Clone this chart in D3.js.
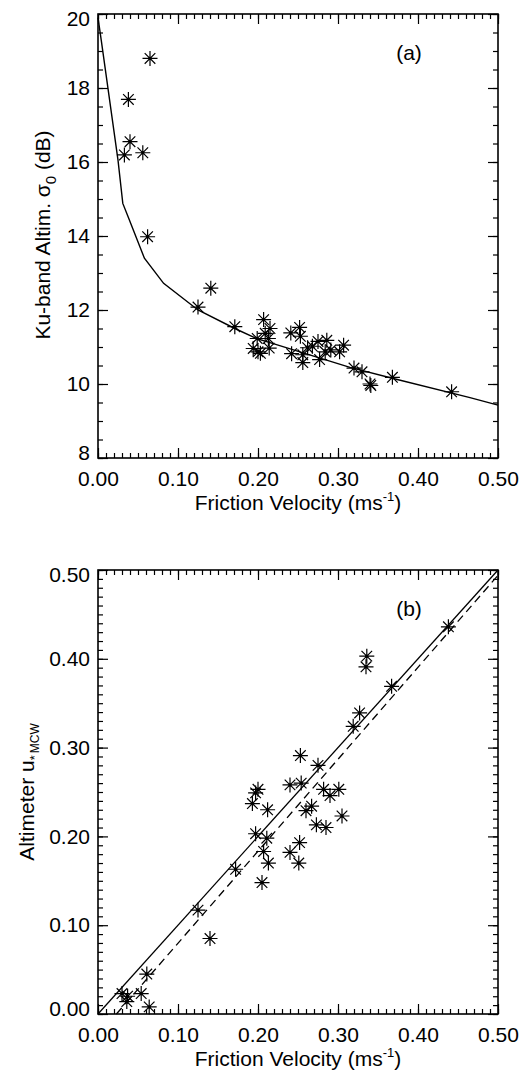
<!DOCTYPE html>
<html>
<head>
<meta charset="utf-8">
<script src="https://cdn.jsdelivr.net/npm/d3@7"></script>
<style>
  body { margin: 0; background: #fff; }
  svg { font-family: "Liberation Sans", Arial, sans-serif; }
  .axis text { font-size: 21px; fill: #000; }
  .axis line { stroke: #000; stroke-width: 1.2; }
</style>
</head>
<body>
<div id="main"></div>
<script>
// panel (a): altimeter sigma0 against friction velocity
const sigmaU = [0.033, 0.038, 0.040, 0.056, 0.062, 0.065, 0.125, 0.141, 0.171, 0.194,
  0.199, 0.200, 0.203, 0.207, 0.209, 0.213, 0.214, 0.215, 0.241, 0.242,
  0.252, 0.253, 0.256, 0.256, 0.262, 0.268, 0.275, 0.277, 0.284, 0.286,
  0.291, 0.302, 0.307, 0.320, 0.330, 0.340, 0.341, 0.368, 0.442];
const sigmaDb = [16.19, 17.69, 16.55, 16.25, 13.98, 18.80, 12.08, 12.59, 11.55, 10.96,
  11.23, 10.87, 10.83, 11.74, 11.37, 11.23, 10.97, 11.50, 11.38, 10.82,
  11.53, 11.29, 10.79, 10.58, 10.98, 11.02, 11.15, 10.66, 10.87, 11.18,
  10.92, 10.87, 11.05, 10.43, 10.33, 10.00, 9.96, 10.18, 9.79];

// model curve in panel (a)
const modelU = [0.000, 0.004, 0.025, 0.031, 0.038, 0.058, 0.082, 0.125, 0.171, 0.198, 0.215, 0.315, 0.369, 0.465, 0.500];
const modelDb = [19.90, 19.30, 16.05, 14.88, 14.50, 13.40, 12.72, 12.00, 11.50, 11.23, 11.12, 10.45, 10.15, 9.63, 9.43];

// panel (b): altimeter u* (MCW) against friction velocity
const mcwU = [0.030, 0.037, 0.036, 0.054, 0.061, 0.064, 0.125, 0.140, 0.172, 0.193,
  0.197, 0.200, 0.197, 0.205, 0.207, 0.211, 0.212, 0.213, 0.240, 0.240,
  0.251, 0.252, 0.253, 0.254, 0.260, 0.267, 0.273, 0.275, 0.282, 0.285,
  0.290, 0.301, 0.305, 0.319, 0.327, 0.335, 0.336, 0.367, 0.438];
const mcwUstar = [0.023, 0.020, 0.014, 0.023, 0.045, 0.008, 0.117, 0.085, 0.163, 0.237,
  0.249, 0.253, 0.203, 0.148, 0.183, 0.198, 0.230, 0.170, 0.258, 0.182,
  0.170, 0.193, 0.291, 0.260, 0.229, 0.234, 0.213, 0.280, 0.253, 0.210,
  0.246, 0.253, 0.223, 0.324, 0.339, 0.391, 0.403, 0.369, 0.436];

// lines in panel (b)
const oneToOneU = [0, 0.5];
const oneToOneV = [0, 0.5];
const fitU = [0.023, 0.5];
const fitV = [0, 0.494];

// ticks
const xTicks = [0, 0.1, 0.2, 0.3, 0.4, 0.5];
const xTickLabels = ['0.00', '0.10', '0.20', '0.30', '0.40', '0.50'];
const yTicksA = [8, 10, 12, 14, 16, 18, 20];
const yTickLabelsA = ['8', '10', '12', '14', '16', '18', '20'];
const yTicksB = [0, 0.1, 0.2, 0.3, 0.4, 0.5];
const yTickLabelsB = ['0.00', '0.10', '0.20', '0.30', '0.40', '0.50'];

const W = 525, H = 1072;
const left = 98, plotW = 400, plotH = 444;

const svg = d3.select('#main').append('svg')
  .attr('width', W)
  .attr('height', H);

// asterisk marker like IDL psym=2
const r = 7.5, dd = r * 0.7071;
const star = `M${-r},0H${r}M0,${-r}V${r}M${-dd},${-dd}L${dd},${dd}M${-dd},${dd}L${dd},${-dd}`;

function range(a, b, step) {
  const out = [];
  for (let v = a; v <= b + step / 2; v += step) out.push(+v.toFixed(4));
  return out;
}

function panel(top, yDomain, yTicks, yLabels, yMinor, tag) {
  const g = svg.append('g').attr('transform', `translate(${left},${top})`);
  const x = d3.scaleLinear().domain([0, 0.5]).range([0, plotW]);
  const y = d3.scaleLinear().domain(yDomain).range([plotH, 0]);
  const xMinor = range(0, 0.5, 0.01);

  // minor ticks on all four sides
  g.append('g').attr('class', 'axis').attr('transform', `translate(0,${plotH})`)
    .call(d3.axisBottom(x).tickValues(xMinor).tickSize(-5).tickFormat(''));
  g.append('g').attr('class', 'axis')
    .call(d3.axisTop(x).tickValues(xMinor).tickSize(-5).tickFormat(''));
  g.append('g').attr('class', 'axis')
    .call(d3.axisLeft(y).tickValues(yMinor).tickSize(-5).tickFormat(''));
  g.append('g').attr('class', 'axis').attr('transform', `translate(${plotW},0)`)
    .call(d3.axisRight(y).tickValues(yMinor).tickSize(-5).tickFormat(''));

  // major ticks
  g.append('g').attr('class', 'axis').attr('transform', `translate(0,${plotH})`)
    .call(d3.axisBottom(x).tickValues(xTicks).tickSize(-10).tickPadding(13)
      .tickFormat((d, i) => xTickLabels[i]));
  g.append('g').attr('class', 'axis')
    .call(d3.axisTop(x).tickValues(xTicks).tickSize(-10).tickFormat(''));
  const yl = g.append('g').attr('class', 'axis')
    .call(d3.axisLeft(y).tickValues(yTicks).tickSize(-10).tickPadding(8)
      .tickFormat((d, i) => yLabels[i]));
  g.append('g').attr('class', 'axis').attr('transform', `translate(${plotW},0)`)
    .call(d3.axisRight(y).tickValues(yTicks).tickSize(-10).tickFormat(''));

  g.selectAll('.axis .domain').remove();

  // nudge the end labels inward, as in the original
  yl.selectAll('.tick text')
    .attr('dy', (d, i) => i === 0 ? '0.05em' : (i === yTicks.length - 1 ? '0.55em' : '0.32em'));

  g.append('rect')
    .attr('width', plotW).attr('height', plotH)
    .attr('fill', 'none').attr('stroke', '#000').attr('stroke-width', 1.6);

  g.append('text')
    .attr('x', x(0.4) - 9).attr('y', 46)
    .attr('text-anchor', 'middle')
    .attr('font-size', 21)
    .text(tag);

  // x label
  const xt = svg.append('text')
    .attr('x', left + plotW / 2)
    .attr('y', top + plotH + 52)
    .attr('text-anchor', 'middle')
    .attr('font-size', 21);
  xt.append('tspan').text('Friction Velocity (ms');
  xt.append('tspan').attr('font-size', 13).attr('dy', -9).text('-1');
  xt.append('tspan').attr('dy', 9).text(')');

  return { g, x, y };
}

function stars(p, pts) {
  p.g.append('g').selectAll('path').data(pts).enter().append('path')
    .attr('transform', d => `translate(${p.x(d[0])},${p.y(d[1])})`)
    .attr('d', star)
    .attr('stroke', '#000').attr('stroke-width', 1.2).attr('fill', 'none');
  p.g.append('g').selectAll('circle').data(pts).enter().append('circle')
    .attr('cx', d => p.x(d[0])).attr('cy', d => p.y(d[1])).attr('r', 1.5);
}

// ----- panel (a)
const a = panel(14, [8, 20], yTicksA, yTickLabelsA, range(8, 20, 0.5), '(a)');

a.g.append('path')
  .datum(modelU.map((u, i) => [u, modelDb[i]]))
  .attr('fill', 'none')
  .attr('stroke', '#000')
  .attr('stroke-width', 1.4)
  .attr('d', d3.line().x(d => a.x(d[0])).y(d => a.y(d[1])));

stars(a, sigmaU.map((u, i) => [u, sigmaDb[i]]));

const ya = svg.append('text')
  .attr('transform', 'translate(50,235) rotate(-90)')
  .attr('text-anchor', 'middle')
  .attr('font-size', 21);
ya.append('tspan').text('Ku-band Altim. σ');
ya.append('tspan').attr('font-size', 15).attr('dy', 6).text('0');
ya.append('tspan').attr('dy', -6).text(' (dB)');

// ----- panel (b)
const b = panel(570, [0, 0.5], yTicksB, yTickLabelsB, range(0, 0.5, 0.01), '(b)');

b.g.append('path')
  .datum(oneToOneU.map((u, i) => [u, oneToOneV[i]]))
  .attr('fill', 'none').attr('stroke', '#000').attr('stroke-width', 1.3)
  .attr('d', d3.line().x(d => b.x(d[0])).y(d => b.y(d[1])));

b.g.append('path')
  .datum(fitU.map((u, i) => [u, fitV[i]]))
  .attr('fill', 'none').attr('stroke', '#000').attr('stroke-width', 1.3)
  .attr('stroke-dasharray', '8,5')
  .attr('d', d3.line().x(d => b.x(d[0])).y(d => b.y(d[1])));

stars(b, mcwU.map((u, i) => [u, mcwUstar[i]]));

const yb = svg.append('text')
  .attr('transform', 'translate(34,792) rotate(-90)')
  .attr('text-anchor', 'middle')
  .attr('font-size', 21);
yb.append('tspan').text('Altimeter u');
yb.append('tspan').attr('font-size', 13).attr('dy', 5).text('*');
yb.append('tspan').attr('font-size', 12).attr('dx', 2).text('MCW');
</script>
</body>
</html>
